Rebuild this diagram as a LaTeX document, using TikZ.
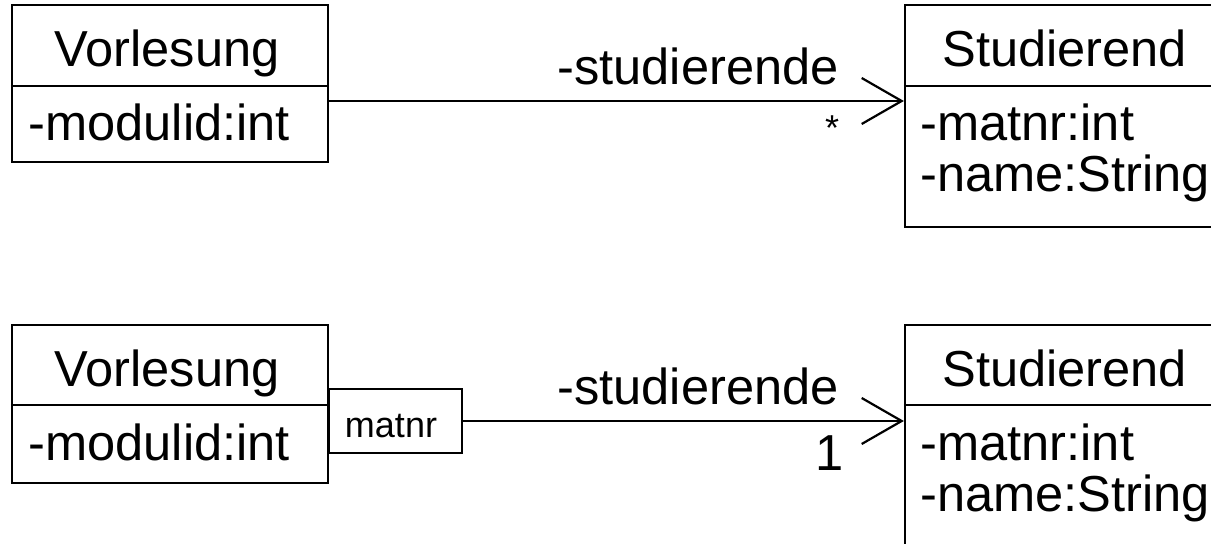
\documentclass[tikz,border=0pt]{standalone}
\usepackage{fontspec}
\setmainfont{Liberation Sans}
\usetikzlibrary{fit,arrows.meta}
\begin{document}
\begin{tikzpicture}[x=0.5pt,y=-0.5pt,
  box/.style={draw,line width=1.1pt,inner sep=0pt},
  divider/.style={line width=1.1pt},
  assoc/.style={line width=1.1pt,-{Straight Barb[length=20pt,width=23pt,line width=1.1pt]}},
  txt/.style={inner sep=0pt,font=\fontsize{25.3pt}{28pt}\selectfont},
  small/.style={inner sep=0pt,font=\fontsize{18pt}{20pt}\selectfont}]
\clip (0,0) rectangle (1211,544);
\fill[white] (0,0) rectangle (1211,544);
% ---- top diagram ----
\node[box,fit={(12,5) (328,162)}] (v1) {};
\node[box,fit={(905,5) (1216,227)}] (s1) {};
\coordinate (v1d) at (0,86);
\draw[divider] (v1.west |- v1d) -- (v1.east |- v1d);
\draw[divider] (s1.west |- v1d) -- (s1.east |- v1d);
\node[txt,anchor=base] (v1n) at (167,67) {Vorlesung};
\node[txt,anchor=base west] (v1a) at (28,141) {-modulid:int};
\node[txt,anchor=base west] (s1n) at (942,67) {Studierend};
\node[txt,anchor=base west] (s1a) at (920,141) {-matnr:int};
\node[txt,anchor=base west] (s1b) at (920,192) {-name:String};
\coordinate (l1) at (0,101);
\draw[assoc] (v1.east |- l1) -- (s1.west |- l1);
\node[txt,anchor=base west] (r1) at (557,85) {-studierende};
\node[small,anchor=center] (m1) at (832,128) {*};
% ---- bottom diagram ----
\node[box,fit={(12,325) (328,483)}] (v2) {};
\node[box,fit={(905,325) (1216,560)}] (s2) {};
\coordinate (v2d) at (0,405);
\draw[divider] (v2.west |- v2d) -- (v2.east |- v2d);
\draw[divider] (s2.west |- v2d) -- (s2.east |- v2d);
\node[txt,anchor=base] (v2n) at (167,387) {Vorlesung};
\node[txt,anchor=base west] (v2a) at (28,461) {-modulid:int};
\node[txt,anchor=base west] (s2n) at (942,387) {Studierend};
\node[txt,anchor=base west] (s2a) at (920,461) {-matnr:int};
\node[txt,anchor=base west] (s2b) at (920,512) {-name:String};
\node[box,fit={(329,389) (462,453)}] (q) {};
\node[small,anchor=base] (qt) at (391,438) {matnr};
\coordinate (l2) at (0,421);
\draw[assoc] (q.east |- l2) -- (s2.west |- l2);
\node[txt,anchor=base west] (r2) at (557,405) {-studierende};
\node[txt,anchor=base west] (m2) at (815,471) {1};
\end{tikzpicture}
\end{document}
